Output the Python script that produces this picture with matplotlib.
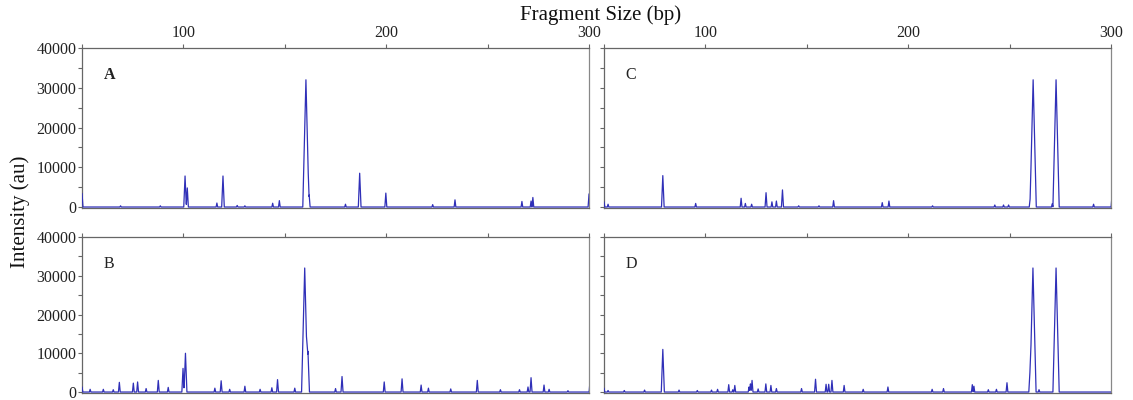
import matplotlib
matplotlib.use("Agg")
import matplotlib.pyplot as plt
import numpy as np

plt.rcParams["font.family"] = ["Liberation Serif", "DejaVu Serif"]

# ── Data: peak positions (bp) and heights (au) ──────────────────────────────
A_pos = [50, 69, 88.6, 100.8, 101.9, 116.5, 119.5, 126.5, 130.3, 144, 147.3,
         160.4, 162, 179.9, 186.9, 199.8, 222.9, 233.9, 266.9, 271.4, 272.3, 300]
A_h = [3400, 300, 300, 7800, 4800, 1000, 7800, 400, 300, 950, 1600,
       32000, 3000, 700, 8500, 3500, 600, 1800, 1400, 1500, 2400, 3300]

B_pos = [50, 54, 60.5, 65.4, 68.4, 75.3, 77.4, 81.6, 87.6, 92.5, 99.8, 101.0,
         115.5, 118.6, 122.8, 130.3, 137.8, 143.6, 146.4, 154.9, 159.8, 161.4,
         175, 178.2, 199, 207.8, 217.2, 220.8, 231.8, 244.9, 256.3, 265.7,
         269.9, 271.4, 277.8, 280.3, 289.6, 300.5]
B_h = [1300, 700, 700, 600, 2500, 2300, 2600, 900, 3000, 1200, 6100, 10000,
       1000, 2900, 700, 1500, 700, 1100, 3200, 1000, 32000, 10500,
       900, 4000, 2600, 3400, 1800, 1000, 800, 3000, 600, 600,
       1300, 3700, 1800, 700, 350, 3000]

C_pos = [50, 52, 79, 95.2, 117.6, 119.7, 122.8, 129.9, 132.8, 135, 138, 146,
         156, 163.2, 187.2, 190.5, 212, 242.7, 247, 249.5, 260.1, 261.6, 271,
         272.9, 291.4, 300.5]
C_h = [1300, 700, 7900, 900, 2200, 900, 700, 3600, 1300, 1500, 4300, 300,
       300, 1600, 1100, 1500, 300, 500, 500, 500, 2000, 32000, 800,
       32000, 700, 3000]

D_pos = [50, 52, 60, 70, 79, 87, 96, 103, 106, 111.5, 113.5, 114.5, 121.5,
         122.2, 123, 126, 129.8, 132.3, 135, 147.4, 154.3, 159.5, 160.8, 162.4,
         168.4, 177.8, 190, 211.8, 217.4, 231.6, 232.4, 239.5, 243.5, 248.7,
         260.0, 261.5, 264.5, 272.9, 300.8]
D_h = [1000, 400, 400, 500, 11000, 500, 400, 500, 700, 1900, 600, 1700, 1300,
       2100, 3000, 800, 2100, 1700, 900, 900, 3300, 2000, 2000, 3000,
       1700, 700, 1300, 700, 900, 1900, 1500, 600, 700, 2400,
       5000, 32000, 600, 32000, 2800]

panel_labels = ["A", "B", "C", "D"]
x_ticks = [50, 100, 150, 200, 250, 300]
x_ticklabels = ["", "100", "", "200", "", "300"]
y_ticks = [0, 5000, 10000, 15000, 20000, 25000, 30000, 35000, 40000]
y_ticklabels = ["0", "", "10000", "", "20000", "", "30000", "", "40000"]

LINE = "#3030b8"
AXC = "#666666"


def spike_trace(pos, h):
    """Narrow triangular peaks on a zero baseline; overlapping peaks merge
    (the upper envelope is taken at every peak vertex)."""
    pos = np.asarray(pos, float)
    h = np.asarray(h, float)
    w = 0.35 + 1.2 * h / 32000
    verts = np.unique(np.concatenate([pos - w, pos, pos + w]))
    tri = h[None, :] * (1 - np.abs(verts[:, None] - pos[None, :]) / w[None, :])
    ys = np.clip(tri, 0, None).max(axis=1)
    return verts, ys


fig = plt.figure(figsize=(11.33, 4.0), dpi=100)

# axes boxes [left, bottom, width, height] in figure fractions
boxes = {
    "A": [0.0724, 0.480, 0.4475, 0.400],
    "B": [0.0724, 0.0175, 0.4475, 0.390],
    "C": [0.5331, 0.480, 0.4475, 0.400],
    "D": [0.5331, 0.0175, 0.4475, 0.390],
}
data = {"A": (A_pos, A_h), "B": (B_pos, B_h), "C": (C_pos, C_h), "D": (D_pos, D_h)}

for name in panel_labels:
    ax = fig.add_axes(boxes[name])
    xs, ys = data[name]
    tx, ty = spike_trace(xs, ys)
    ax.plot(tx, ty, color=LINE, lw=0.9, zorder=3)

    ax.set_xlim(50, 300)
    ax.set_ylim(-250, 40000)

    ax.set_xticks(x_ticks)
    ax.set_yticks(y_ticks)
    if name in ("A", "C"):
        ax.set_xticklabels(x_ticklabels)
    else:
        ax.set_xticklabels([""] * len(x_ticks))
    if name in ("A", "B"):
        ax.set_yticklabels(y_ticklabels)
    else:
        ax.set_yticklabels([""] * len(y_ticks))

    ax.tick_params(axis="x", top=True, bottom=False, labeltop=True,
                   labelbottom=False, direction="out", length=3, width=0.8,
                   color=AXC, labelsize=11.5, pad=2, labelcolor="#222222")
    ax.tick_params(axis="y", left=True, right=False, direction="out",
                   length=3, width=0.8, color=AXC, labelsize=11.5, pad=1,
                   labelcolor="#222222")
    for s in ax.spines.values():
        s.set_color(AXC)
        s.set_linewidth(0.9)
    ax.spines["right"].set_color("#888888")

    ax.text(0.043, 0.83, name, transform=ax.transAxes, fontsize=11.5,
            fontweight="bold" if name == "A" else "normal",
            ha="left", va="center", color="#222222")

fig.text(0.53, 0.962, "Fragment Size (bp)", ha="center", va="center",
         fontsize=15, color="#111111")
fig.text(0.018, 0.47, "Intensity (au)", ha="center", va="center",
         rotation=90, fontsize=15, color="#111111")

fig.savefig("out.png", dpi=100)
